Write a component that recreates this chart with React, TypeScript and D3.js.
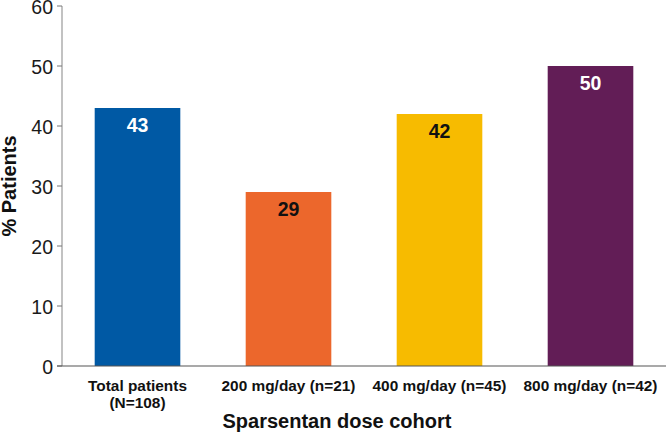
import React from "react";
import * as d3 from "d3";

const categories = ["Total patients|(N=108)", "200 mg/day (n=21)", "400 mg/day (n=45)", "800 mg/day (n=42)"];
const values = [43, 29, 42, 50];
const barColors = ["#0059A4", "#EC672C", "#F7BB00", "#621D56"];
const labelColors = ["#ffffff", "#111111", "#111111", "#ffffff"];
const yTicks = [0, 10, 20, 30, 40, 50, 60];

const W = 666;
const H = 432;
const m = { left: 62, right: 0, top: 6, bottom: 66 };

export default function App() {
  const x = d3
    .scaleBand<string>()
    .domain(categories)
    .range([m.left, W - m.right])
    .paddingInner(0.433)
    .paddingOuter(0.2165);
  const y = d3.scaleLinear().domain([0, 60]).range([H - m.bottom, m.top]);
  const font = "'Liberation Sans', Arial, sans-serif";
  return (
    <svg
      width={W}
      height={H}
      style={{ position: "absolute", left: 0, top: 0, fontFamily: font }}
    >
      <rect width={W} height={H} fill="#fff" />
      {categories.map((c, i) => (
        <g key={c}>
          <rect
            x={x(c)}
            y={y(values[i])}
            width={x.bandwidth()}
            height={y(0) - y(values[i])}
            fill={barColors[i]}
          />
          <text
            x={(x(c) as number) + x.bandwidth() / 2}
            y={y(values[i]) + 24}
            textAnchor="middle"
            fontSize={19.5}
            fontWeight="bold"
            fill={labelColors[i]}
          >
            {values[i]}
          </text>
          {c.split("|").map((line, j) => (
            <text
              key={j}
              x={(x(c) as number) + x.bandwidth() / 2}
              y={391 + j * 17}
              textAnchor="middle"
              fontSize={15.4}
              fontWeight="bold"
              fill="#111"
            >
              {line}
            </text>
          ))}
        </g>
      ))}
      <line x1={m.left} x2={m.left} y1={y(60)} y2={y(0)} stroke="#999" strokeWidth={1.2} />
      {yTicks.map((t) => (
        <g key={t}>
          <line x1={m.left - 5} x2={m.left} y1={y(t)} y2={y(t)} stroke="#777" strokeWidth={1} />
          <text
            x={m.left - 9}
            y={y(t) + 7.5}
            textAnchor="end"
            fontSize={19.5}
            fill="#1a1a1a"
          >
            {t}
          </text>
        </g>
      ))}
      <line x1={m.left - 5} x2={W} y1={y(0)} y2={y(0)} stroke="#555" strokeWidth={1.2} />
      <text
        transform={`translate(15.5, ${(y(0) + y(60)) / 2}) rotate(-90)`}
        textAnchor="middle"
        fontSize={20}
        fontWeight="bold"
        fill="#111"
      >
        % Patients
      </text>
      <text x={337} y={428} textAnchor="middle" fontSize={20} fontWeight="bold" fill="#111">
        Sparsentan dose cohort
      </text>
    </svg>
  );
}
